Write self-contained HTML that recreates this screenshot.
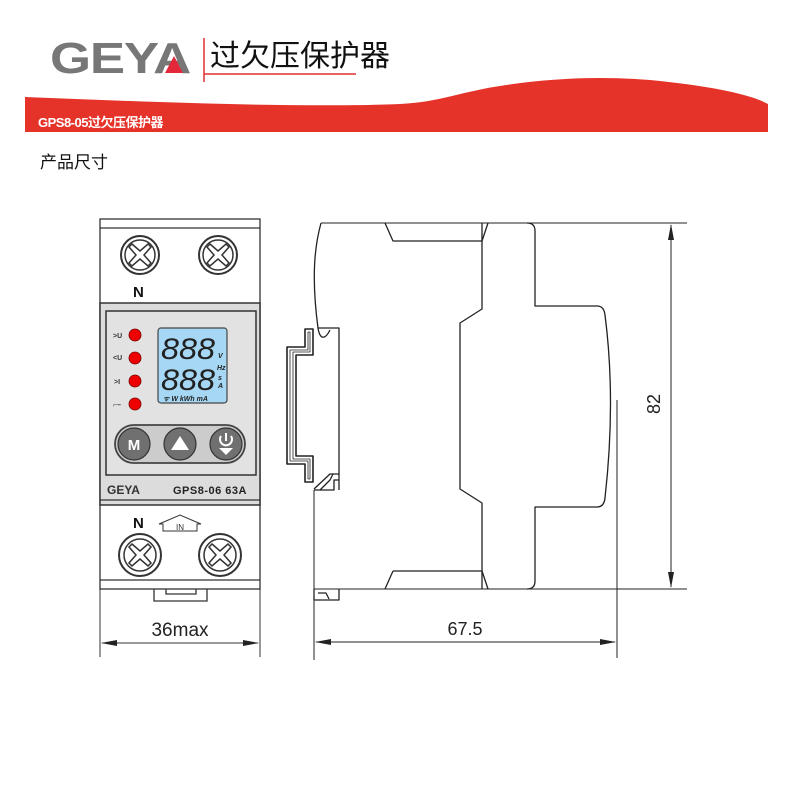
<!DOCTYPE html>
<html><head><meta charset="utf-8"><style>
html,body{margin:0;padding:0;background:#fff;}
svg{display:block}
text{font-family:"Liberation Sans","Noto Sans CJK SC",sans-serif;}
</style></head><body>
<svg width="790" height="790" viewBox="0 0 790 790" xmlns="http://www.w3.org/2000/svg">
<rect width="790" height="790" fill="#fff"/>
<!-- header -->
<text x="50" y="73" font-size="44" font-weight="bold" fill="#777" letter-spacing="-1" textLength="140" lengthAdjust="spacingAndGlyphs">GEYA</text>
<polygon points="165,73 174,56 183,73" fill="#e3283a"/>
<line x1="204" y1="38" x2="204" y2="82" stroke="#e03030" stroke-width="1.5"/>
<line x1="204" y1="74" x2="356" y2="74" stroke="#e03030" stroke-width="1.5"/>
<text x="210" y="66" font-size="30" fill="#111">过欠压保护器</text>
<path d="M25,97 C150,102 300,108 400,104 C440,102 460,92 500,86 C550,78 600,76 650,80 C710,86 750,94 768,104 L768,132 L25,132 Z" fill="#e5332a"/>
<text x="38" y="127" font-size="13" fill="#fff" font-weight="bold" letter-spacing="-0.5">GPS8-05过欠压保护器</text>
<text x="40" y="168" font-size="17" fill="#111">产品尺寸</text>

<!-- front view -->
<g stroke="#333" stroke-width="1.3" fill="none">
<rect x="100" y="219" width="160" height="370"/>
<line x1="100" y1="228" x2="260" y2="228"/>
<line x1="100" y1="580" x2="260" y2="580"/>
<path d="M154,589 v12 h53 v-12"/>
<path d="M166,589 v5 h30 v-5"/>
</g>
<rect x="100" y="303" width="160" height="202" fill="#dcdcdc" stroke="#333" stroke-width="1.5"/>
<rect x="106" y="311" width="150" height="164" fill="#e2e2e2" stroke="#333" stroke-width="1.5"/>
<line x1="100" y1="500" x2="260" y2="500" stroke="#333" stroke-width="1.3"/>
<text x="107" y="494" font-size="12" font-weight="bold" fill="#333">GEYA</text>
<text x="173" y="494" font-size="11" font-weight="bold" fill="#222" letter-spacing="0.5">GPS8-06 63A</text>
<g font-size="7" font-weight="bold" fill="#333">
<text x="113" y="338">&gt;U</text><text x="113" y="360">&lt;U</text><text x="114" y="384">&gt;I</text><text x="113" y="407">⌐–</text>
</g>
<g fill="#e00" stroke="#700" stroke-width="0.8">
<circle cx="135" cy="335" r="6"/><circle cx="135" cy="358" r="6"/><circle cx="135" cy="381" r="6"/><circle cx="135" cy="404" r="6"/>
</g>
<rect x="158" y="328" width="69" height="75" rx="3" fill="#a6d8f5" stroke="#444" stroke-width="1.2"/>
<text x="161" y="359" font-size="30" font-style="italic" fill="#222" textLength="54" lengthAdjust="spacingAndGlyphs">888</text>
<text x="161" y="390" font-size="30" font-style="italic" fill="#222" textLength="54" lengthAdjust="spacingAndGlyphs">888</text>
<g font-size="7" font-style="italic" font-weight="bold" fill="#222">
<text x="218" y="358">V</text><text x="217" y="370">Hz</text><text x="218" y="380">s</text><text x="218" y="388">A</text>
<text x="163" y="401">ᯤ W kWh mA</text>
</g>
<rect x="115" y="425" width="130" height="38" rx="19" fill="#ccc" stroke="#444" stroke-width="1.8"/>
<circle cx="134" cy="444" r="16" fill="#707070" stroke="#333" stroke-width="1.2"/>
<circle cx="180" cy="444" r="16" fill="#707070" stroke="#333" stroke-width="1.2"/>
<circle cx="226" cy="444" r="16" fill="#707070" stroke="#333" stroke-width="1.2"/>
<text x="134" y="450" font-size="15" font-weight="bold" fill="#fff" text-anchor="middle">M</text>
<polygon points="171,450 189,450 180,436" fill="#fff"/>
<path d="M221,436 a6,6 0 1 0 10,0" stroke="#fff" stroke-width="2" fill="none"/>
<line x1="226" y1="433" x2="226" y2="441" stroke="#fff" stroke-width="2"/>
<polygon points="219,448 233,448 226,455" fill="#fff"/>
<!-- screws -->
<g stroke="#333" stroke-width="1.5" fill="#fff">
<g transform="translate(140,255)"><circle r="19" stroke-width="2"/><circle r="15"/><path d="M-8,-11 L0,-4 L8,-11 L11,-8 L4,0 L11,8 L8,11 L0,4 L-8,11 L-11,8 L-4,0 L-11,-8 Z"/></g>
<g transform="translate(218,255)"><circle r="19" stroke-width="2"/><circle r="15"/><path d="M-8,-11 L0,-4 L8,-11 L11,-8 L4,0 L11,8 L8,11 L0,4 L-8,11 L-11,8 L-4,0 L-11,-8 Z"/></g>
<g transform="translate(140,555)"><circle r="21" stroke-width="2"/><circle r="16"/><path d="M-8,-11 L0,-4 L8,-11 L11,-8 L4,0 L11,8 L8,11 L0,4 L-8,11 L-11,8 L-4,0 L-11,-8 Z"/></g>
<g transform="translate(220,555)"><circle r="21" stroke-width="2"/><circle r="16"/><path d="M-8,-11 L0,-4 L8,-11 L11,-8 L4,0 L11,8 L8,11 L0,4 L-8,11 L-11,8 L-4,0 L-11,-8 Z"/></g>
</g>
<text x="133" y="297" font-size="15" font-weight="bold" fill="#111">N</text>
<text x="133" y="528" font-size="15" font-weight="bold" fill="#111">N</text>
<path d="M163,524 L163,531 L197,531 L197,524 L201,524 L180,515 L159,524 Z" fill="none" stroke="#333" stroke-width="1"/>
<text x="180" y="530" font-size="8" fill="#333" text-anchor="middle">IN</text>

<!-- width dim -->
<g stroke="#333" stroke-width="1" fill="none">
<line x1="100" y1="589" x2="100" y2="657"/><line x1="260" y1="589" x2="260" y2="657"/>
<line x1="102" y1="643" x2="258" y2="643"/>
</g>
<polygon points="101,643 117,640 117,646" fill="#222"/>
<polygon points="259,643 243,640 243,646" fill="#222"/>
<text x="180" y="636" font-size="19" fill="#222" text-anchor="middle">36max</text>

<!-- side view -->
<g stroke="#222" stroke-width="1.3" fill="none" stroke-linejoin="round">
<line x1="321" y1="223" x2="687" y2="223" stroke-width="1"/>
<line x1="314" y1="589" x2="687" y2="589" stroke-width="1"/>
<path d="M321,223 C315,245 311,275 318,328 L339,328 L339,490"/>
<path d="M318,328 C320,340 325,340 330,330"/>
<path d="M314,490 L314,660" stroke-width="1"/>
<path d="M314,489 L330,474 L339,474"/>
<path d="M320,490 L330,480 L333,474 M320,490 h14 v-10 h5 M314,490 l6,0"/>
<path d="M314,589 v11 h25 v-11 M318,593 l8,0 l3,6"/>
<path d="M385,223 L393,241 L482,241 M393,571 L385,589 M393,571 L482,571"/>
<path d="M482,223 L482,309 L460,323 L460,489 L482,503 L482,589"/>
<path d="M482,241 L488,223 M482,571 L488,589"/>
<path d="M527,223 Q535,223 535,231 L535,306 L597,306 Q604,306 605,315 Q616,400 605,498 Q604,507 597,507 L535,507 L535,581 Q535,589 527,589"/>
<path d="M305,329 L313,329 L313,355 L296,355 L296,456 L313,456 L313,482 L305,482 L305,464 L287,464 L287,347 L305,347 Z" stroke-width="1.6"/>
<path d="M308,332 L310,332 L310,352 L293,352 L293,459 L310,459 L310,479 L308,479 M308,332 L308,350 L290,350 L290,461 L308,461 L308,479" stroke-width="0.8"/>
<line x1="617" y1="400" x2="617" y2="658" stroke-width="1"/>
<line x1="671" y1="225" x2="671" y2="587" stroke-width="1"/>
<line x1="316" y1="642" x2="615" y2="642" stroke-width="1"/>
</g>
<polygon points="671,224 668,240 674,240" fill="#222"/>
<polygon points="671,588 668,572 674,572" fill="#222"/>
<polygon points="315,642 331,639 331,645" fill="#222"/>
<polygon points="616,642 600,639 600,645" fill="#222"/>
<text x="465" y="635" font-size="18" fill="#222" text-anchor="middle">67.5</text>
<text transform="translate(660,404) rotate(-90)" font-size="18" fill="#222" text-anchor="middle">82</text>
</svg>
</body></html>
